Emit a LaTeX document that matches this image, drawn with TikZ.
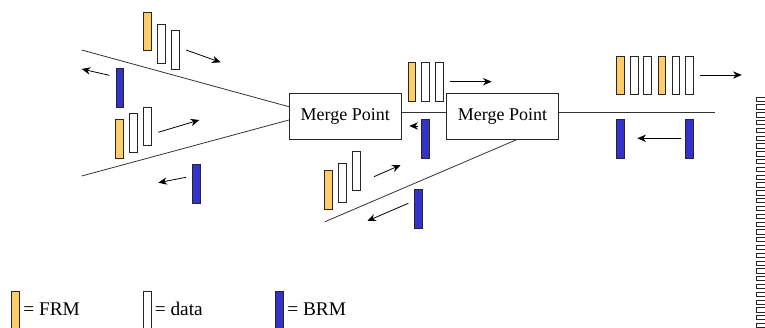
\documentclass[tikz,border=0pt]{standalone}
\usepackage{fontspec}
\setmainfont{Liberation Serif}
\usetikzlibrary{arrows.meta,calc}
\definecolor{frmorange}{HTML}{FFCC66}
\definecolor{brmblue}{HTML}{3333CC}
\tikzset{
  cell/.style={draw=black!85, line width=0.6pt, inner sep=0pt,
    minimum width=5.8pt, minimum height=29pt, anchor=north west},
  frm/.style={cell, fill=frmorange},
  dat/.style={cell, fill=white},
  brm/.style={cell, fill=brmblue},
  merge/.style={draw=black!85, line width=0.6pt, fill=white, inner sep=0pt,
    minimum width=84pt, minimum height=34pt,
    font=\fontsize{13.5}{16}\selectfont},
  link/.style={draw=black!80, line width=0.6pt},
  flow/.style={black, line width=0.6pt, -{Stealth[length=6.5pt,width=5.5pt]}},
  key/.style={anchor=base west, inner sep=0pt,
    font=\fontsize{14.5}{17}\selectfont},
  slot/.style={draw=black!85, line width=0.6pt, fill=white, inner sep=0pt,
    minimum width=9pt, minimum height=3.2pt, anchor=north west}
}
\begin{document}
\begin{tikzpicture}[x=0.75pt,y=-0.75pt]
\useasboundingbox (0,0) rectangle (765,328);
\clip (0,0) rectangle (765,328);

% merge points
\node[merge] (m1) at (345.3,116.3) {Merge Point};
\node[merge] (m2) at (502.5,116.3) {Merge Point};

% links
\coordinate (ul) at (81.7,50);
\coordinate (ll) at (81.7,176);
\coordinate (rr) at (715,112.7);
\coordinate (lm) at (325,221.7);
\draw[link] (ul) -- ($(m1.west)+(0,-9.6)$);
\draw[link] (ll) -- ($(m1.west)+(0,3.7)$);
\draw[link] ($(m1.east)+(0,-4)$) -- ($(m2.west)+(0,-4)$);
\draw[link] ($(m2.east)+(0,-3.6)$) -- (rr);
\draw[link] ($(m2.south)+(14.8,0)$) -- (lm);

% upper left branch
\node[frm] (a1) at (143.3,11.7) {};
\node[dat] (a2) at (157.3,24) {};
\node[dat] (a3) at (171,30.3) {};
\draw[flow] (186,50) -- (220.7,62.3);
\node[brm] (a4) at (115.7,68.3) {};
\draw[flow] (109.3,75.3) -- (81.7,69);

% lower left branch
\node[frm] (b1) at (115.3,119) {};
\node[dat] (b2) at (129.3,113) {};
\node[dat] (b3) at (143.3,106.7) {};
\draw[flow] (158.3,132.3) -- (199.3,120);
\node[brm] (b4) at (192,164) {};
\draw[flow] (186,177.3) -- (158.3,182.7);

% between the merge points
\node[frm] (c1) at (407.7,62.3) {};
\node[dat] (c2) at (421.3,62.3) {};
\node[dat] (c3) at (435.3,62.3) {};
\draw[flow] (450,81.7) -- (491.7,81.7);
\node[brm] (c4) at (421.3,119) {};
\draw[flow] (418.3,126) -- (409.3,126);

% lower middle branch
\node[frm] (d1) at (324,170) {};
\node[dat] (d2) at (338.3,163.3) {};
\node[dat] (d3) at (352,151) {};
\draw[flow] (374,176.7) -- (400.7,165);
\node[brm] (d4) at (414.3,189.3) {};
\draw[flow] (408.3,203.3) -- (367.3,221);

% outgoing link
\node[frm] (e1) at (616,55.7) {};
\node[dat] (e2) at (630,55.7) {};
\node[dat] (e3) at (643.3,55.7) {};
\node[frm] (e4) at (657.7,55.7) {};
\node[dat] (e5) at (671.7,55.7) {};
\node[dat] (e6) at (685.3,55.7) {};
\draw[flow] (700,75) -- (741.7,75);
\node[brm] (e7) at (616,119) {};
\node[brm] (e8) at (685.3,119) {};
\draw[flow] (680.7,138.3) -- (637.3,138.3);

% queue at the right edge
\foreach \i in {0,...,29}
  \node[slot] (s\i) at (755.7,{96.7+7.8*\i}) {};

% legend
\node[frm] (k1) at (11,291) {};
\node[key] (t1) at (23,315) {= FRM};
\node[dat] (k2) at (143.3,291) {};
\node[key] (t2) at (154.5,315) {= data};
\node[brm] (k3) at (275,291) {};
\node[key] (t3) at (287,315) {= BRM};
\end{tikzpicture}
\end{document}
